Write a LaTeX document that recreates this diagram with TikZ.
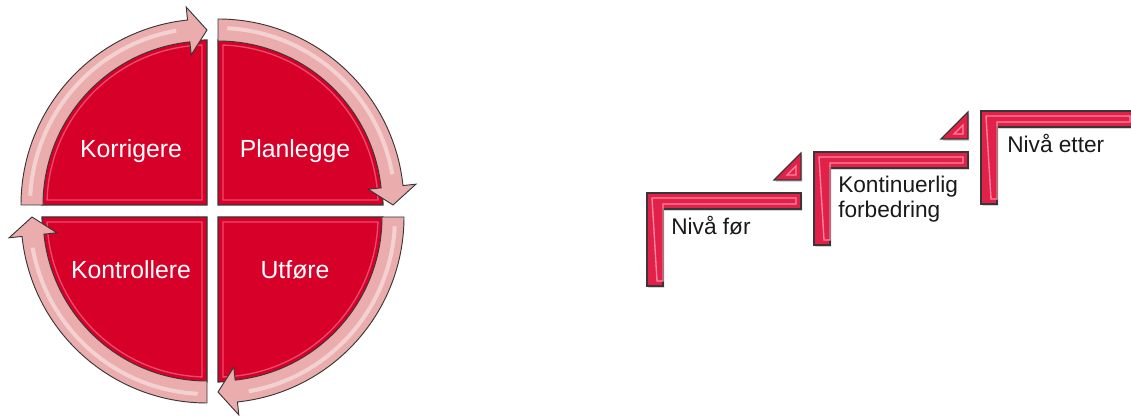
\documentclass[tikz,border=0pt]{standalone}
\usepackage{fontspec}
\setmainfont{Liberation Sans}
\usepackage{tikz}
\usetikzlibrary{
	calc,
	shadows
}
\usepackage{xcolor}
\definecolor{sektorrod}{RGB}{214,0,40}
\definecolor{pilrosa}{RGB}{234,172,172}
\definecolor{trapprod}{RGB}{226,32,72}
\definecolor{kant}{RGB}{55,55,55}
\definecolor{fasrosa}{RGB}{255,135,165}
\definecolor{nivasvart}{RGB}{25,25,25}

\begin{document}
\begin{tikzpicture}[x=0.75pt,y=0.75pt,
		sektor/.style={fill=sektorrod,draw=kant,line width=0.8pt},
		pil/.style={fill=pilrosa,draw=kant,line width=0.7pt},
		trinn/.style={fill=trapprod,draw=kant,line width=0.9pt,
			drop shadow={shadow xshift=1pt,shadow yshift=-1.5pt,opacity=0.35}},
		glans/.style={draw=white,opacity=0.45,line width=3pt},
		fas/.style={draw=fasrosa,line width=1pt},
		fasetekst/.style={text=white,font=\fontsize{18.6}{22}\selectfont,inner sep=0pt},
		nivatekst/.style={text=nivasvart,font=\fontsize{17}{18.75}\selectfont,inner sep=0pt,align=left}]
		
		\clip (0,0) rectangle (1131,416);
		
		%---------------- PDCA ----------------%
		
		\foreach \cx/\cy/\a in {218/211/0, 207/211/90, 207/199/180, 218/199/270}{
			\draw[sektor] (\cx,\cy) -- ++(\a:165)
			arc[start angle=\a, end angle=\a+90, radius=165] -- cycle;
			\draw[fas,opacity=0.55] ($(\cx,\cy)+(\a:5)+(\a+90:5)$) -- ($(\cx,\cy)+(\a+1.8:160)$)
			arc[start angle=\a+1.8, end angle=\a+88.2, radius=160] -- cycle;
		}
		
		\foreach \cx/\cy/\a in {207/211/180, 218/211/90, 218/199/0, 207/199/270}{
			\draw[pil] ($(\cx,\cy)+(\a:186)$)
			arc[start angle=\a, end angle=\a-84, radius=186]
			-- ($(\cx,\cy)+(\a-84:199)$) -- ($(\cx,\cy)+(\a-90:175)$)
			-- ($(\cx,\cy)+(\a-84:151)$) -- ($(\cx,\cy)+(\a-84:164)$)
			arc[start angle=\a-84, end angle=\a, radius=164] -- cycle;
			\draw[glans] ($(\cx,\cy)+(\a-3:177)$)
			arc[start angle=\a-3, end angle=\a-80, radius=177];
		}
		
		\node[fasetekst,anchor=base] (korrigere) at (131,258) {Korrigere};
		\node[fasetekst,anchor=base] (planlegge) at (295,258) {Planlegge};
		\node[fasetekst,anchor=base] (kontrollere) at (131,137) {Kontrollere};
		\node[fasetekst,anchor=base] (utfore) at (295,137) {Utføre};
		
		%---------------- Trapp ----------------%
		
		\foreach \i in {0,1,2}{
			\pgfmathsetmacro{\xo}{647+167*\i}
			\pgfmathsetmacro{\yo}{223+41*\i}
			\draw[trinn] (\xo,\yo) -- ++(154,0) -- ++(0,-16) -- ++(-138,0)
			-- ++(0,-77) -- ++(-16,0) -- cycle;
			\draw[fas] (\xo+5,\yo-5) -- ++(144,0) -- ++(0,-6) -- ++(-133,0)
			-- ++(0,-77) -- ++(-6,0) -- cycle;
		}
		
		\foreach \i in {0,1}{
			\pgfmathsetmacro{\xo}{647+167*\i}
			\pgfmathsetmacro{\yo}{223+41*\i}
			\draw[trinn] (\xo+154,\yo+13) -- ++(0,27) -- ++(-27,-27) -- cycle;
			\draw[fas] (\xo+149,\yo+18) -- ++(0,9) -- ++(-9,-9) -- cycle;
		}
		
		\node[nivatekst,anchor=base west] (nivafor) at (671,181) {Nivå før};
		\node[nivatekst,anchor=base west] (forbedring) at (838,198) {Kontinuerlig\\forbedring};
		\node[nivatekst,anchor=base west] (nivaetter) at (1007,263) {Nivå etter};
		
	\end{tikzpicture}
\end{document}
